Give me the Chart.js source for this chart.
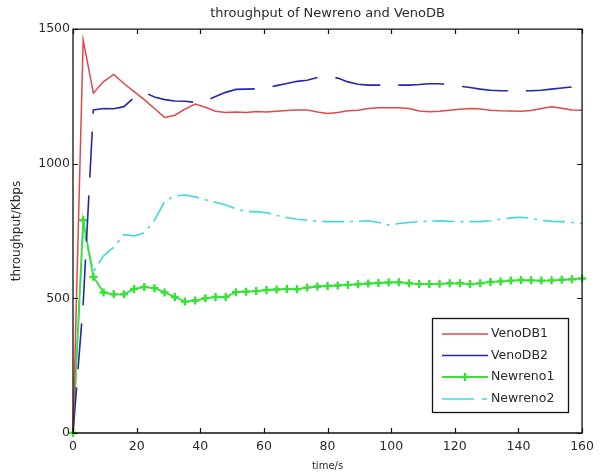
<!DOCTYPE html>
<html><head><meta charset="utf-8">
<script src="https://cdn.jsdelivr.net/npm/chart.js@4.4.1/dist/chart.umd.min.js"></script>
<style>html,body{margin:0;padding:0;background:#fff;}#wrap{width:600px;height:476px;}</style>
</head><body><div id="wrap"><canvas id="c" width="600" height="476"></canvas></div>
<script>
// ---- data ----
const times = [0,3.2,6.4,9.6,12.8,16,19.2,22.4,25.6,28.8,32,35.2,38.4,41.6,44.8,48,51.2,54.4,57.6,60.8,64,67.2,70.4,73.6,76.8,80,83.2,86.4,89.6,92.8,96,99.2,102.4,105.6,108.8,112,115.2,118.4,121.6,124.8,128,131.2,134.4,137.6,140.8,144,147.2,150.4,153.6,156.8,160];
const venoDB1 = [0,1460,1262,1305,1332,1298,1268,1238,1205,1172,1180,1203,1222,1210,1195,1190,1192,1190,1194,1192,1195,1198,1200,1200,1192,1187,1190,1197,1199,1205,1208,1208,1208,1205,1196,1193,1195,1199,1202,1205,1203,1199,1197,1196,1195,1198,1205,1212,1206,1200,1199];
const venoDB2 = [0,480,1200,1205,1204,1212,1246,1265,1248,1238,1233,1232,1228,1232,1250,1265,1276,1277,1278,1282,1290,1298,1306,1310,1320,1325,1318,1304,1295,1292,1292,1292,1292,1292,1294,1297,1297,1293,1288,1283,1277,1273,1271,1271,1271,1271,1273,1277,1281,1285,1286];
const newreno1 = [0,790,580,522,515,515,535,542,538,522,505,488,492,500,505,505,523,525,527,531,533,535,534,540,544,546,548,550,552,555,557,559,560,556,553,553,554,556,556,553,556,561,563,566,568,567,566,567,569,571,574];
const newreno2 = [0,760,600,658,690,737,732,743,790,860,880,884,877,866,857,847,833,822,822,818,808,800,794,790,786,785,785,785,786,788,782,773,778,782,785,787,788,786,785,785,785,788,794,799,801,797,790,786,785,782,778];
const seriesNames = ['VenoDB1','VenoDB2','Newreno1','Newreno2'];
const xTicks = [0,20,40,60,80,100,120,140,160];
const yTicks = [0,500,1000,1500];
const chartTitle = 'throughput of Newreno and VenoDB';
const xTitle = 'time/s';
const yTitle = 'throughput/Kbps';

const pts = arr => arr.map((v,i)=>({x:times[i], y:v}));
const FONT = 'DejaVu Sans';
const TXT = '#2a2a2a';

const frame = {
  id:'frame',
  afterDatasetsDraw(chart){
    const {ctx, chartArea:a, scales:{x,y}} = chart;
    ctx.save();
    ctx.strokeStyle = '#111';
    ctx.lineWidth = 1.3;
    ctx.beginPath();
    ctx.moveTo(a.left, a.top); ctx.lineTo(a.right, a.top); ctx.lineTo(a.right, a.bottom);
    ctx.lineTo(a.left, a.bottom); ctx.closePath();
    ctx.stroke();
    ctx.lineWidth = 1.2;
    ctx.beginPath();
    xTicks.forEach(v=>{
      const p = Math.round(x.getPixelForValue(v))+0.5;
      ctx.moveTo(p, a.bottom); ctx.lineTo(p, a.bottom-5);
      ctx.moveTo(p, a.top); ctx.lineTo(p, a.top+5);
    });
    yTicks.forEach(v=>{
      const p = Math.round(y.getPixelForValue(v))+0.5;
      ctx.moveTo(a.left, p); ctx.lineTo(a.left+5, p);
      ctx.moveTo(a.right, p); ctx.lineTo(a.right-5, p);
    });
    ctx.stroke();
    ctx.restore();
  },
  afterDraw(chart){
    const {ctx} = chart;
    const L = 432, T = 318, R = 569, B = 413;
    ctx.save();
    ctx.fillStyle = '#fff';
    ctx.fillRect(L, T, R-L, B-T);
    ctx.strokeStyle = '#111';
    ctx.lineWidth = 1.3;
    ctx.strokeRect(L+0.5, T+0.5, R-L-1, B-T-1);
    const rows = [334, 355.5, 377, 399];
    chart.data.datasets.forEach((ds,i)=>{
      const yy = rows[i];
      ctx.save();
      ctx.strokeStyle = ds.borderColor;
      ctx.lineWidth = ds.borderWidth;
      ctx.setLineDash(ds.legendDash || []);
      ctx.beginPath(); ctx.moveTo(442, yy); ctx.lineTo(488, yy); ctx.stroke();
      ctx.setLineDash([]);
      if (ds.pointRadius > 0) {
        const r = ds.pointRadius;
        ctx.lineWidth = ds.pointBorderWidth;
        ctx.beginPath();
        ctx.moveTo(465 - r, yy); ctx.lineTo(465 + r, yy);
        ctx.moveTo(465, yy - r); ctx.lineTo(465, yy + r);
        ctx.stroke();
      }
      ctx.restore();
      ctx.fillStyle = TXT;
      ctx.font = '12.5px "' + FONT + '"';
      ctx.textBaseline = 'middle';
      ctx.textAlign = 'left';
      ctx.fillText(ds.label, 491, yy);
    });
    ctx.restore();
  }
};

new Chart(document.getElementById('c'), {
  type: 'line',
  data: {
    datasets: [
      {label: seriesNames[0], data: pts(venoDB1), borderColor:'#e24848', borderWidth:1.5, pointRadius:0, tension:0, clip:false},
      {label: seriesNames[1], data: pts(venoDB2), borderColor:'#2626b0', borderWidth:1.6, borderDash:[46,18], legendDash:[], pointRadius:0, tension:0, clip:false},
      {label: seriesNames[2], data: pts(newreno1), borderColor:'#38e038', backgroundColor:'#38e038', borderWidth:1.8, pointStyle:'cross', pointRadius:4, pointBorderWidth:2.4, pointBorderColor:'#38e038', tension:0, clip:false},
      {label: seriesNames[3], data: pts(newreno2), borderColor:'#3cd9e2', borderWidth:1.6, borderDash:[22,6,3,6], legendDash:[32,8,5,8], pointRadius:0, tension:0, clip:false}
    ]
  },
  options: {
    responsive:false,
    devicePixelRatio:1,
    animation:false,
    events:[],
    layout:{padding:{left:0, right:15, top:0, bottom:0}},
    plugins:{
      legend:{display:false},
      tooltip:{enabled:false},
      title:{display:true, text:chartTitle, fullSize:false, color:TXT,
        font:{family:FONT, size:13, weight:'normal'}, padding:{top:5.5, bottom:8}}
    },
    scales:{
      x:{type:'linear', min:0, max:160,
        afterBuildTicks: s => { s.ticks = xTicks.map(v=>({value:v})); },
        afterFit: s => { s.height = 43; },
        grid:{display:false, drawTicks:false}, border:{display:false},
        ticks:{color:TXT, font:{family:FONT, size:12.5}, padding:6, maxRotation:0, autoSkip:false, callback: v => String(v)},
        title:{display:true, text:xTitle, color:TXT, font:{family:FONT, size:10}, padding:{top:0,bottom:4}}
      },
      y:{type:'linear', min:0, max:1500,
        afterBuildTicks: s => { s.ticks = yTicks.map(v=>({value:v})); },
        afterFit: s => { s.width = 73; },
        grid:{display:false, drawTicks:false}, border:{display:false},
        ticks:{color:TXT, font:{family:FONT, size:12.5}, padding:3, callback: v => String(v)},
        title:{display:true, text:yTitle, color:TXT, font:{family:FONT, size:12}, padding:{top:10,bottom:0}}
      }
    }
  },
  plugins:[frame]
});
</script></body></html>
